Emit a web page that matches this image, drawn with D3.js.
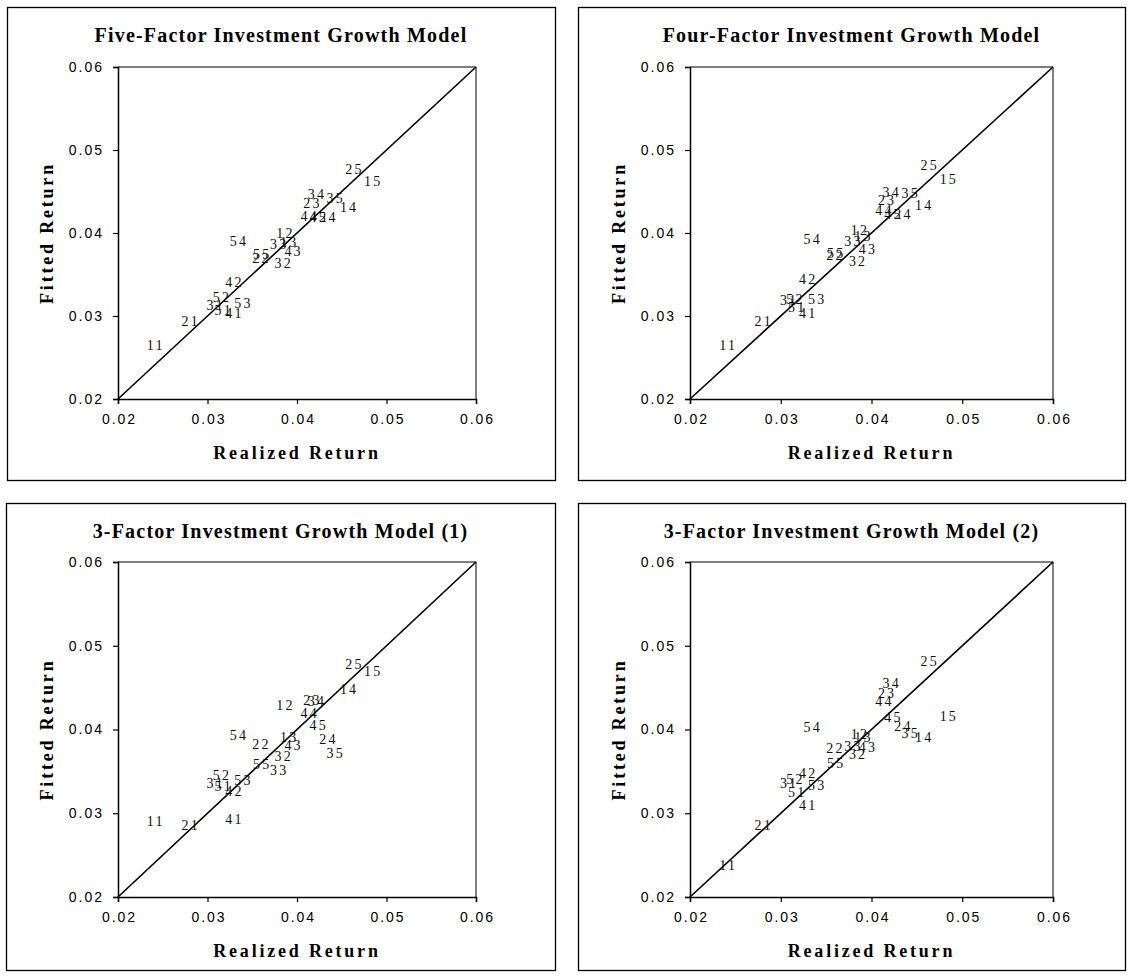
<!DOCTYPE html>
<html>
<head>
<meta charset="utf-8">
<script src="https://cdn.jsdelivr.net/npm/d3@7"></script>
<style>
  body { margin: 0; background: #fff; }
  svg { display: block; font-family: "Liberation Serif", "Times New Roman", serif; }
  .frame { fill: #fff; stroke: #000; stroke-width: 1.3; }
  .tick-label { font-size: 14px; letter-spacing: 2px; fill: #000; }
  .pt { font-size: 14px; letter-spacing: 2.2px; fill: #111; }
  .title { font-size: 20px; font-weight: bold; letter-spacing: 1.2px; }
  .axis-title { font-size: 18px; font-weight: bold; letter-spacing: 2.8px; }
</style>
</head>
<body>
<script>
// portfolio labels (size quintile, investment quintile)
const portfolios = ["11","12","13","14","15",
                    "21","22","23","24","25",
                    "31","32","33","34","35",
                    "41","42","43","44","45",
                    "51","52","53","54","55"];

// realized return, same in all four panels
const realized = [0.0241, 0.0386, 0.0390, 0.0457, 0.0484,
                  0.0280, 0.0359, 0.0416, 0.0434, 0.0463,
                  0.0308, 0.0384, 0.0379, 0.0421, 0.0442,
                  0.0329, 0.0329, 0.0395, 0.0413, 0.0423,
                  0.0317, 0.0315, 0.0339, 0.0334, 0.0360];

// fitted returns
const fiveFactor = [0.0265, 0.0400, 0.0389, 0.0431, 0.0463,
                    0.0294, 0.0370, 0.0436, 0.0419, 0.0477,
                    0.0313, 0.0364, 0.0387, 0.0447, 0.0442,
                    0.0304, 0.0341, 0.0378, 0.0420, 0.0419,
                    0.0307, 0.0323, 0.0316, 0.0390, 0.0375];

const fourFactor = [0.0265, 0.0404, 0.0396, 0.0434, 0.0465,
                    0.0294, 0.0373, 0.0440, 0.0423, 0.0482,
                    0.0319, 0.0366, 0.0390, 0.0449, 0.0448,
                    0.0304, 0.0345, 0.0381, 0.0428, 0.0423,
                    0.0311, 0.0320, 0.0320, 0.0393, 0.0376];

const threeFactor1 = [0.0291, 0.0429, 0.0391, 0.0448, 0.0470,
                      0.0286, 0.0383, 0.0435, 0.0389, 0.0478,
                      0.0336, 0.0368, 0.0352, 0.0434, 0.0372,
                      0.0293, 0.0327, 0.0381, 0.0419, 0.0405,
                      0.0332, 0.0345, 0.0339, 0.0393, 0.0359];

const threeFactor2 = [0.0238, 0.0395, 0.0391, 0.0391, 0.0416,
                      0.0286, 0.0378, 0.0444, 0.0404, 0.0482,
                      0.0336, 0.0371, 0.0380, 0.0456, 0.0396,
                      0.0310, 0.0348, 0.0379, 0.0434, 0.0415,
                      0.0325, 0.0341, 0.0334, 0.0403, 0.0360];

const titles = ["Five-Factor Investment Growth Model",
                "Four-Factor Investment Growth Model",
                "3-Factor Investment Growth Model (1)",
                "3-Factor Investment Growth Model (2)"];

const ticks = [0.02, 0.03, 0.04, 0.05, 0.06];
const domain = [0.02, 0.06];

const W = 1130, H = 978;
const svg = d3.select("body").append("svg").attr("width", W).attr("height", H);

// frame box and plot area for each panel
const layout = [
  {box: [7, 7, 548, 473],   plot: [118, 476, 67, 399],  fitted: fiveFactor},
  {box: [578, 7, 547, 473], plot: [690, 1053, 67, 399], fitted: fourFactor},
  {box: [6, 503, 549, 467], plot: [118, 476, 562, 897], fitted: threeFactor1},
  {box: [578, 503, 547, 467], plot: [690, 1053, 562, 897], fitted: threeFactor2}
];

const fmt = d3.format(".2f");

layout.forEach((p, i) => {
  const [bx, by, bw, bh] = p.box;
  const [l, r, t, b] = p.plot;
  const g = svg.append("g");

  g.append("rect").attr("class", "frame")
    .attr("x", bx + 0.5).attr("y", by + 0.5).attr("width", bw).attr("height", bh);

  const x = d3.scaleLinear().domain(domain).range([l, r]);
  const y = d3.scaleLinear().domain(domain).range([b, t]);

  // plot area border (top black, right grey)
  g.append("line").attr("x1", l).attr("x2", r).attr("y1", t).attr("y2", t)
    .attr("stroke", "#000").attr("stroke-width", 1.2);
  g.append("line").attr("x1", r).attr("x2", r).attr("y1", t).attr("y2", b)
    .attr("stroke", "#808080").attr("stroke-width", 2);

  const xAxis = g.append("g").attr("transform", `translate(0,${b})`)
    .call(d3.axisBottom(x).tickValues(ticks).tickFormat(fmt).tickSize(5).tickPadding(10));
  const yAxis = g.append("g").attr("transform", `translate(${l},0)`)
    .call(d3.axisLeft(y).tickValues(ticks).tickFormat(fmt).tickSize(5).tickPadding(9));
  [xAxis, yAxis].forEach(a => {
    a.select(".domain").attr("stroke", "#000").attr("stroke-width", 1.5);
    a.selectAll(".tick line").attr("stroke", "#000").attr("stroke-width", 1.2);
    a.selectAll(".tick text").attr("class", "tick-label").attr("font-family", null).attr("font-size", null);
  });
  xAxis.selectAll(".tick text").attr("dx", "1px");

  // 45 degree line
  g.append("line")
    .attr("x1", x(domain[0])).attr("y1", y(domain[0]))
    .attr("x2", x(domain[1])).attr("y2", y(domain[1]))
    .attr("stroke", "#000").attr("stroke-width", 1.6);

  // data labels used as markers
  g.selectAll("text.pt")
    .data(portfolios.map((k, j) => ({k, rx: realized[j], fy: p.fitted[j]})))
    .enter().append("text")
    .attr("class", "pt")
    .attr("x", d => x(d.rx))
    .attr("y", d => y(d.fy))
    .attr("dx", "1.1px")
    .attr("dy", "0.35em")
    .attr("text-anchor", "middle")
    .text(d => d.k);

  g.append("text").attr("class", "title")
    .attr("x", bx + bw / 2).attr("y", by + 35)
    .attr("text-anchor", "middle")
    .text(titles[i]);

  g.append("text").attr("class", "axis-title")
    .attr("x", (l + r) / 2).attr("y", b + 60)
    .attr("text-anchor", "middle")
    .text("Realized Return");

  g.append("text").attr("class", "axis-title")
    .attr("transform", `translate(${l - 65},${(t + b) / 2}) rotate(-90)`)
    .attr("text-anchor", "middle")
    .text("Fitted Return");
});
</script>
</body>
</html>
